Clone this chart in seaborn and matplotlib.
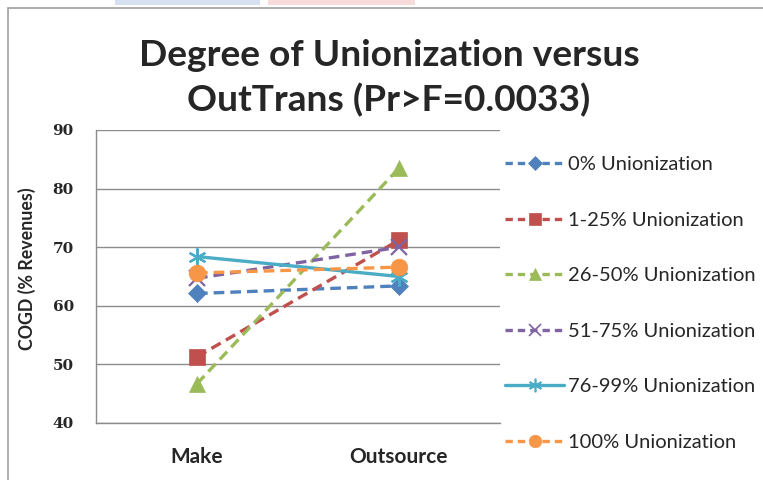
import matplotlib
matplotlib.use("Agg")
import matplotlib.pyplot as plt
import seaborn as sns
import pandas as pd
from matplotlib.lines import Line2D
from matplotlib.patches import Rectangle

categories = ["Make", "Outsource"]
series_names = ["0% Unionization", "1-25% Unionization", "26-50% Unionization",
                "51-75% Unionization", "76-99% Unionization", "100% Unionization"]
vals_0 = [62.1, 63.4]
vals_1_25 = [51.3, 71.2]
vals_26_50 = [46.7, 83.5]
vals_51_75 = [64.7, 70.0]
vals_76_99 = [68.4, 65.0]
vals_100 = [65.6, 66.6]
all_vals = [vals_0, vals_1_25, vals_26_50, vals_51_75, vals_76_99, vals_100]
yticks = [40, 50, 60, 70, 80, 90]

colors = ["#4F81BD", "#C0504D", "#9BBB59", "#8064A2", "#4BACC6", "#F79646"]
markers = ["D", "s", "^", "x", (6, 2, 0), "o"]
msizes = [9, 12, 12, 11, 13, 12]
styles = ["--", "--", "--", "--", "-", "--"]

sns.set_style("white")
plt.rcParams['font.family'] = ['Lato', 'DejaVu Sans']

fig = plt.figure(figsize=(7.63, 4.8), dpi=100)
ax = fig.add_axes([96/763, 1-423/480, (500-96)/763, (423-130)/480])

rows = []
for name, vals in zip(series_names, all_vals):
    for c, v in zip(categories, vals):
        rows.append({"cat": c, "val": v, "series": name})
df = pd.DataFrame(rows)

for i, name in enumerate(series_names):
    sub = df[df.series == name]
    ls = (0, (3.2, 1.8)) if styles[i] == "--" else "-"
    mew = 1.6 if i in (3, 4) else 0.5
    sns.lineplot(data=sub, x="cat", y="val", ax=ax, color=colors[i],
                 marker=markers[i], markersize=msizes[i], linewidth=2.4,
                 linestyle=ls, markeredgecolor=colors[i], markeredgewidth=mew,
                 legend=False, zorder=3 + i)

ax.set_xlim(-0.5, 1.5)
ax.set_ylim(40, 90)
ax.set_yticks(yticks)
ax.set_yticklabels([str(t) for t in yticks], fontsize=11, fontweight="bold",
                   family=["DejaVu Serif"])
ax.set_xticks([0, 1])
ax.set_xticklabels(categories, fontsize=15, fontweight="bold")
ax.tick_params(axis="y", length=0, pad=16)
ax.tick_params(axis="x", length=0, pad=17)
ax.yaxis.grid(True, color="#8C8C8C", linewidth=1)
ax.xaxis.grid(False)
for s in ["top", "right"]:
    ax.spines[s].set_visible(False)
for s in ["left", "bottom"]:
    ax.spines[s].set_color("#8C8C8C")
    ax.spines[s].set_linewidth(1)
ax.set_xlabel("")
ax.set_ylabel("")

fig.text(27/763, 1-269/480, "COGD (% Revenues)", rotation=90, ha="center", va="center",
         fontsize=12.8, fontweight="bold")

fig.text(389/763, 1-55/480, "Degree of Unionization versus", ha="center", va="center",
         fontsize=26.7, fontweight="bold")
fig.text(389/763, 1-100/480, "OutTrans (Pr>F=0.0033)", ha="center", va="center",
         fontsize=26.7, fontweight="bold")

handles = []
for i in range(6):
    ls = (0, (2.2, 1.5)) if styles[i] == "--" else "-"
    handles.append(Line2D([0], [0], color=colors[i], linestyle=ls, linewidth=2.4,
                          marker=markers[i], markersize=msizes[i] * 0.75,
                          markeredgecolor=colors[i],
                          markeredgewidth=1.2 if i in (3, 4) else 0.5))
fig.legend(handles, series_names, loc="upper left", bbox_to_anchor=(497/763, 1-148/480),
           frameon=False, handlelength=2.95, labelspacing=1.91, fontsize=14.5,
           handletextpad=0.2, borderaxespad=0)

# chart border and top bands
fig.patches.append(Rectangle((8/763, -0.1), 1.2, 1 - 8/480 + 0.1, transform=fig.transFigure,
                             fill=False, edgecolor="#A0A0A0", linewidth=1.2))
fig.patches.append(Rectangle((115/763, 1-5/480), 145/763, 5/480, transform=fig.transFigure,
                             color="#D6E0F0", linewidth=0))
fig.patches.append(Rectangle((268/763, 1-5/480), 147/763, 5/480, transform=fig.transFigure,
                             color="#F8DCDC", linewidth=0))

fig.savefig("out.png", dpi=100)
